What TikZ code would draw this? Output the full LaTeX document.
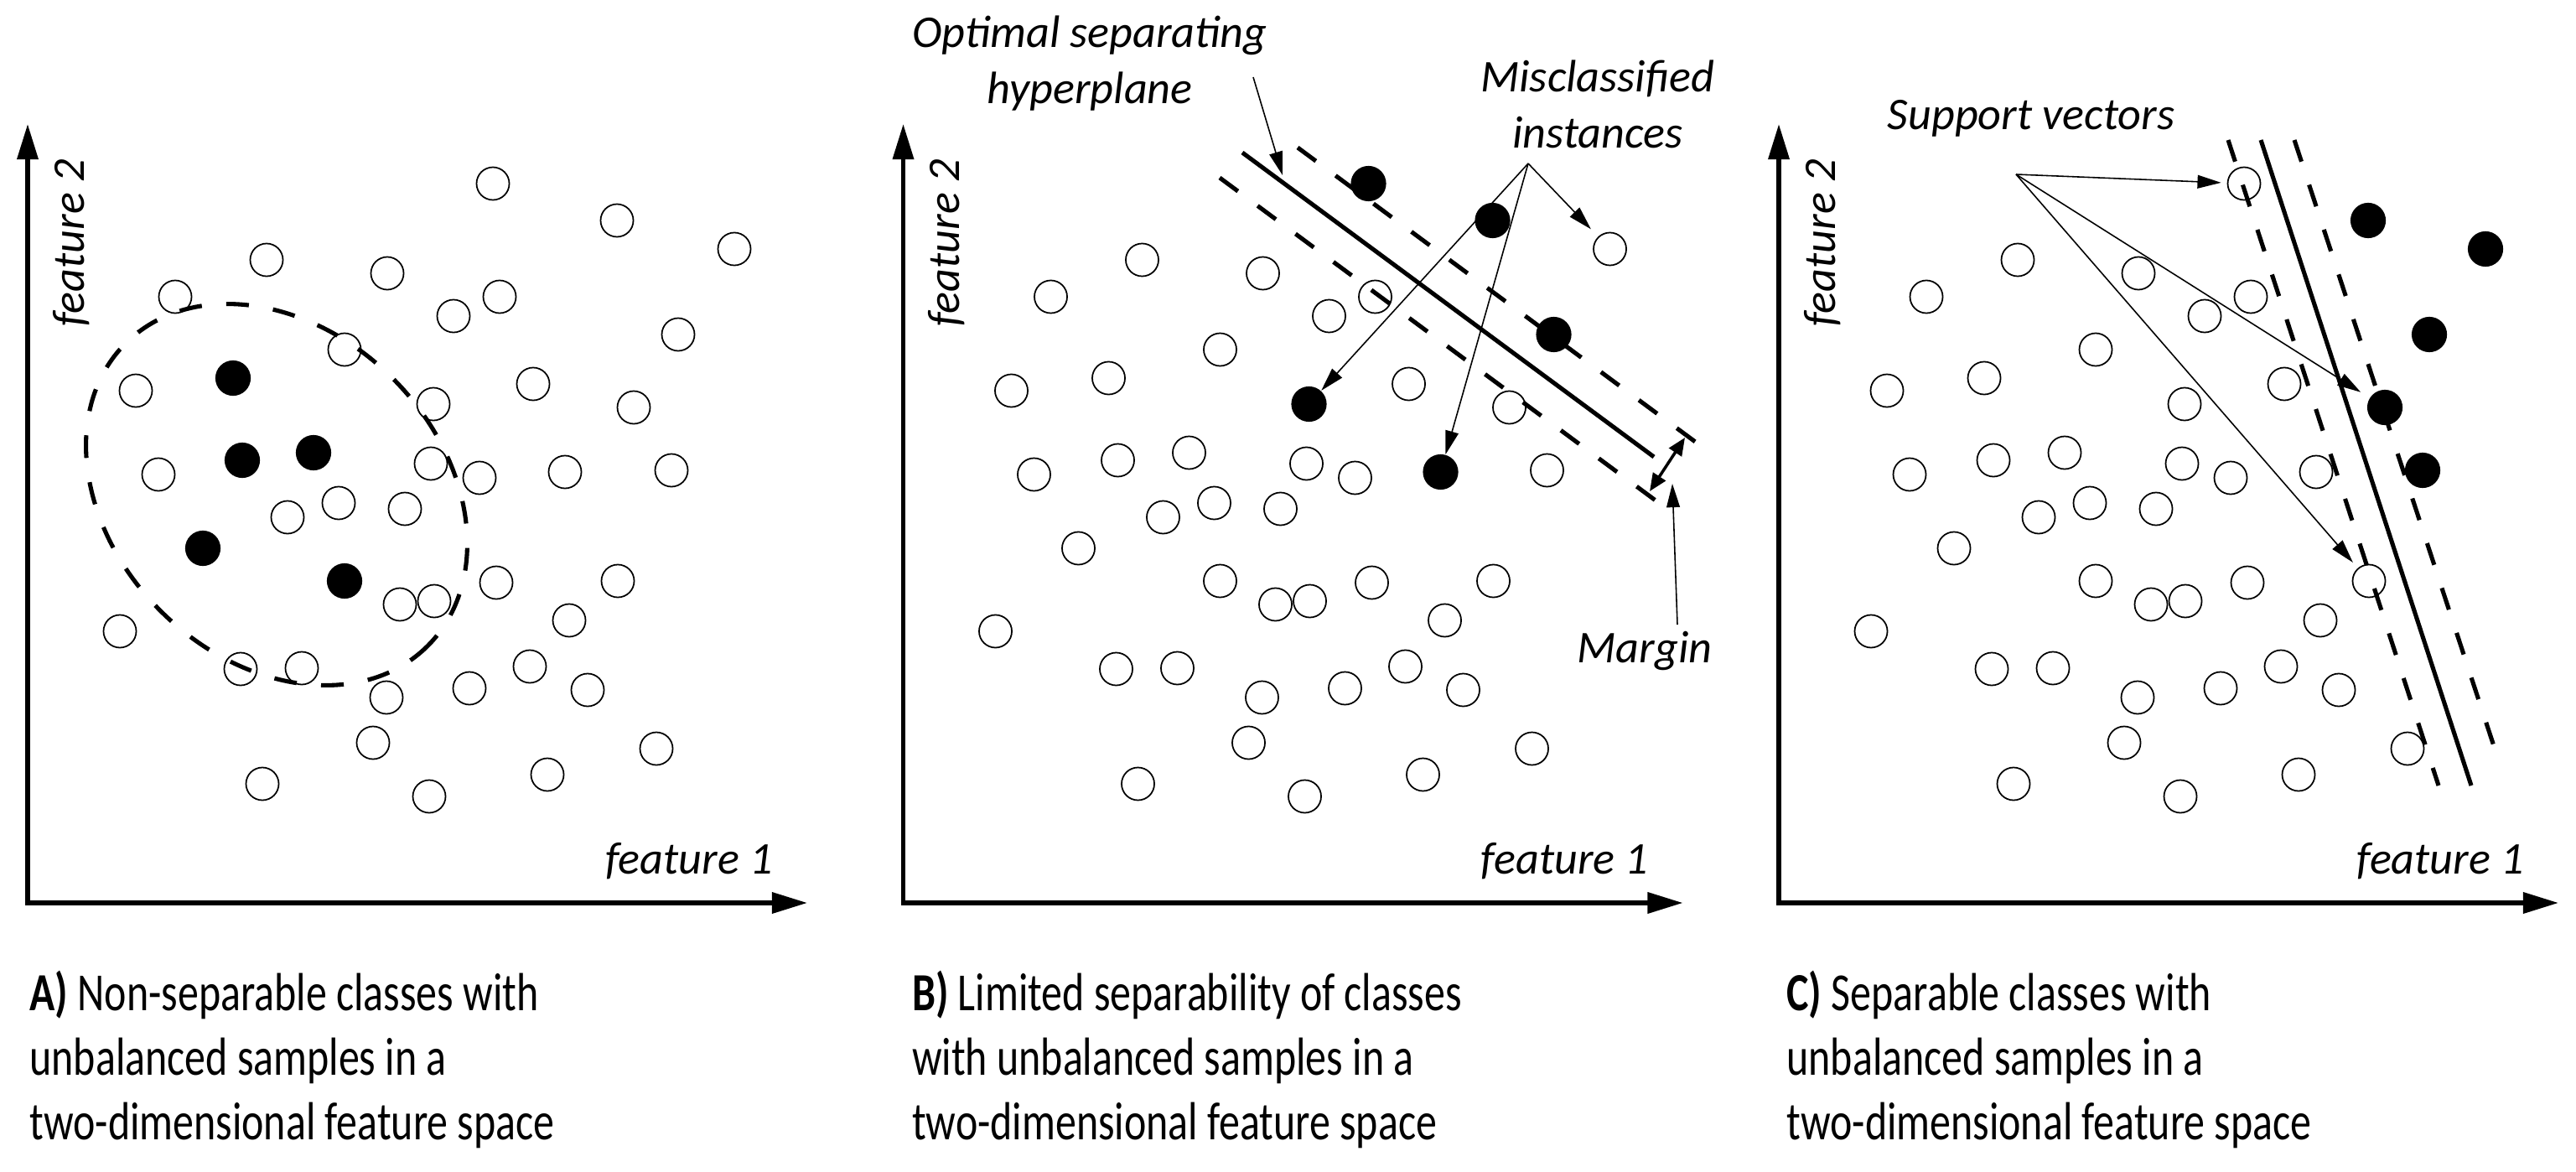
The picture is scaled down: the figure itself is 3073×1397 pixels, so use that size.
\documentclass[tikz,border=0pt]{standalone}
\usepackage{fontspec}
\setmainfont{Carlito}
\usetikzlibrary{arrows.meta}
\begin{document}
\begin{tikzpicture}[x=0.01cm, y=-0.01cm,
  oc/.style={circle, draw=black, line width=0.5pt, minimum size=11.1pt, inner sep=0pt},
  fc/.style={circle, fill=black, minimum size=12pt, inner sep=0pt},
  axisline/.style={line width=1.45pt, {Triangle[length=12pt,width=7pt]}-{Triangle[length=12pt,width=7pt]}},
  lbl/.style={font=\fontsize{15.4}{19}\selectfont\itshape, inner sep=0pt},
  captxt/.style={font=\fontsize{18.2}{21.9}\selectfont, inner sep=0pt, align=left, anchor=north west, xscale=0.78},
  hyp/.style={line width=1.45pt},
  marg/.style={line width=1.45pt, dash pattern=on 7.7pt off 8.3pt},
  ptr/.style={line width=0.45pt, -{Triangle[length=8pt,width=4.5pt]}},
]
\fill[white] (0,0) rectangle (3073,1397);
\useasboundingbox (0,0) rectangle (3073,1397);
\def\commonpts{318/310,462/326,209/354,411/417,162/466,514/553,189/566,596/354,541/377,636/458,572/570,343/617,404/600,483/607,143/753,287/798,360/797,477/721,518/717,461/832,445/886,313/935,512/950,592/695,679/740,632/795,560/821,701/823,783/893,653/924}

% ---------------- Panel A ----------------
\begin{scope}
  \foreach \x/\y [count=\i] in \commonpts {\node[oc] (Ao\i) at (\x,\y) {};}
  \foreach \x/\y [count=\i] in {517/482,588/219,736/263,876/297,809/399,756/486,674/563,801/561,737/693} {\node[oc] (Ax\i) at (\x,\y) {};}
  \foreach \x/\y [count=\i] in {278/451,289/549,374/540,242/654,411/693} {\node[fc] (Af\i) at (\x,\y) {};}
  \draw[marg, rotate around={-45:(330,590)}] (330,590) ellipse [x radius=255, y radius=196];
  \draw[axisline] (33,148) -- (33,1077) -- (963,1077);
  \node[lbl, rotate=90, anchor=base] (f2A) at (100,290) {feature 2};
  \node[lbl, anchor=base] (f1A) at (822,1042) {feature 1};
  \node[captxt] (capA) at (35,1157) {\textbf{A)} Non-separable classes with\\unbalanced samples in a\\two-dimensional feature space};
\end{scope}

% ---------------- Panel B ----------------
\begin{scope}[shift={(1044.5,0)}]
  \foreach \x/\y [count=\i] in \commonpts {\node[oc] (Bo\i) at (\x,\y) {};}
  \foreach \x/\y [count=\i] in {756/486,801/561,737/693,278/451,289/549,374/540,242/654,411/693} {\node[oc] (Bx\i) at (\x,\y) {};}
  \node[oc] (Bmis3) at (876,297) {};
  \node[fc] (Bmis1) at (517,482) {};
  \node[fc] (Bmis2) at (674,563) {};
  \node[fc] (Bf1) at (588,219) {};
  \node[fc] (Bf2) at (736,263) {};
  \node[fc] (Bf3) at (809,399) {};
  \draw[axisline] (33,148) -- (33,1077) -- (963,1077);
  \node[lbl, rotate=90, anchor=base] (f2B) at (100,290) {feature 2};
  \node[lbl, anchor=base] (f1B) at (822,1042) {feature 1};
  \node[captxt] (capB) at (43,1157) {\textbf{B)} Limited separability of classes\\with unbalanced samples in a\\two-dimensional feature space};
\end{scope}
% hyperplane and margins B
\draw[hyp] (1482,182) -- (1973,545);
\draw[marg] (1548,176) -- (2025,529);
\draw[marg] (1455,212) -- (1975,597);
\draw[line width=1pt, {Triangle[length=6pt,width=5pt]}-{Triangle[length=6pt,width=5pt]}] (1968,586) -- (2010,522);
\node[lbl, align=center, anchor=north] (hypl) at (1300,18) {Optimal separating\\hyperplane};
\coordinate (hpS) at (1495,92);
\coordinate (hpT) at (1530,209);
\draw[ptr] (hpS) -- (hpT);
\node[lbl, align=center, anchor=north] (misl) at (1906,71) {Misclassified\\instances};
\coordinate (mA) at (1823,195);
\draw[ptr] (mA) -- (Bmis1);
\draw[ptr] (mA) -- (Bmis2);
\draw[ptr, shorten >=3.5pt] (mA) -- (Bmis3);
\node[lbl, anchor=base] (margl) at (1962,790) {Margin};
\coordinate (mgS) at (2001,745);
\coordinate (mgT) at (1995,577);
\draw[ptr] (mgS) -- (mgT);

% ---------------- Panel C ----------------
\begin{scope}[shift={(2089,0)}]
  \foreach \x/\y [count=\i] in \commonpts {\node[oc] (Co\i) at (\x,\y) {};}
  \foreach \x/\y [count=\i] in {517/482,674/563,278/451,289/549,374/540,242/654,411/693} {\node[oc] (Cx\i) at (\x,\y) {};}
  \node[oc] (Csv1) at (588,219) {};
  \node[oc] (Csv3) at (737,693) {};
  \node[fc] (Csv2) at (756,486) {};
  \foreach \x/\y [count=\i] in {736/263,876/297,809/399,801/561} {\node[fc] (Cf\i) at (\x,\y) {};}
  \draw[axisline] (33,148) -- (33,1077) -- (963,1077);
  \node[lbl, rotate=90, anchor=base] (f2C) at (100,290) {feature 2};
  \node[lbl, anchor=base] (f1C) at (822,1042) {feature 1};
  \node[captxt] (capC) at (42,1157) {\textbf{C)} Separable classes with\\unbalanced samples in a\\two-dimensional feature space};
\end{scope}
\draw[hyp] (2697,167) -- (2948,937);
\draw[marg] (2658,167) -- (2909,937);
\draw[marg] (2737,167) -- (2975,890);
\node[lbl, anchor=base] (supl) at (2423,155) {Support vectors};
\coordinate (sA) at (2405,208);
\draw[ptr, shorten >=2pt] (sA) -- (Csv1);
\draw[ptr, shorten >=3.5pt] (sA) -- (Csv2);
\draw[ptr, shorten >=2.5pt] (sA) -- (Csv3);
\end{tikzpicture}
\end{document}
